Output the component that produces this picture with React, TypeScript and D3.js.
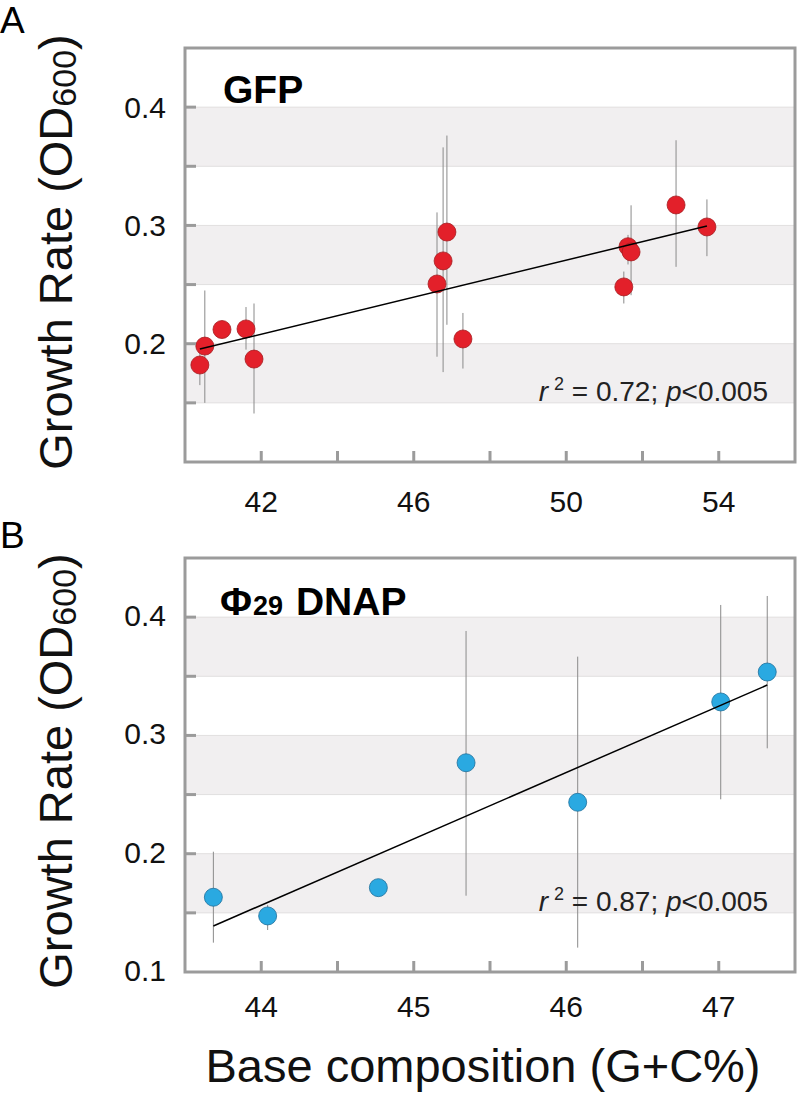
import React from "react";
import * as d3 from "d3";

// ---------- Data ----------
// Panel A: GFP
const gfpGC = [40.39, 40.52, 40.97, 41.6, 41.81, 46.61, 46.77, 46.87, 47.29, 51.51, 51.62, 51.7, 52.88, 53.69];
const gfpRate = [0.182, 0.198, 0.212, 0.2125, 0.187, 0.2505, 0.27, 0.2944, 0.204, 0.248, 0.282, 0.2776, 0.3173, 0.2987];
const gfpLow = [0.165, 0.15, 0.208, 0.195, 0.141, 0.189, 0.176, 0.216, 0.179, 0.234, 0.267, 0.241, 0.265, 0.274];
const gfpHigh = [0.199, 0.245, 0.216, 0.231, 0.234, 0.311, 0.366, 0.376, 0.226, 0.261, 0.292, 0.317, 0.372, 0.322];
const gfpFitX = [40.39, 53.69];
const gfpFitY = [0.1955, 0.2995];

// Panel B: Φ29 DNAP
const dnapGC = [43.686, 44.042, 44.768, 45.343, 46.075, 47.013, 47.318];
const dnapRate = [0.1632, 0.1474, 0.1713, 0.2769, 0.2435, 0.3283, 0.3536];
const dnapLow = [0.1248, 0.1355, 0.1713, 0.1645, 0.1206, 0.246, 0.2891];
const dnapHigh = [0.2017, 0.1567, 0.1713, 0.3883, 0.3666, 0.4103, 0.4179];
const dnapFitX = [43.686, 47.318];
const dnapFitY = [0.1389, 0.3426];

// Axes
const yDomain = [0.1, 0.45];
const yTickMarks = [0.15, 0.2, 0.25, 0.3, 0.35, 0.4];
const bandRanges = [[0.15, 0.2], [0.25, 0.3], [0.35, 0.4]];
const yLabelsA = [0.2, 0.3, 0.4];
const yLabelsB = [0.1, 0.2, 0.3, 0.4];

const xDomainA = [40, 56];
const xTickMarksA = [42, 44, 46, 48, 50, 52, 54];
const xLabelsA = [42, 46, 50, 54];

const xDomainB = [43.5, 47.5];
const xTickMarksB = [44, 44.5, 45, 45.5, 46, 46.5, 47];
const xLabelsB = [44, 45, 46, 47];

const FONT = "'Liberation Sans', Arial, Helvetica, sans-serif";
const FRAME = "#9b9b9b";

type PanelProps = {
  top: number;
  letter: string;
  letterY: number;
  title: React.ReactNode;
  xDomain: number[];
  xTickMarks: number[];
  xLabels: number[];
  yLabels: number[];
  xs: number[];
  ys: number[];
  lows: number[];
  highs: number[];
  fitX: number[];
  fitY: number[];
  fill: string;
  stroke: string;
  stat: string;
  xLabelBaseline: number;
  yLabelOffset: number;
  yTitleCenter: number;
};

function Panel(p: PanelProps) {
  const left = 185, right = 795, height = 414;
  const top = p.top, bottom = top + height;
  const x = d3.scaleLinear().domain(p.xDomain).range([left, right]);
  const y = d3.scaleLinear().domain(yDomain).range([bottom, top]);
  const line = d3.line<number>().x((_, i) => x(p.fitX[i])).y((d) => y(d));
  const tickLen = 11;
  return (
    <g>
      <text x={0} y={p.letterY} fontFamily={FONT} fontSize={37} fill="#000">{p.letter}</text>
      {/* bands */}
      {bandRanges.map((b, i) => (
        <rect key={"b" + i} x={left} y={y(b[1])} width={right - left} height={y(b[0]) - y(b[1])} fill="#f1eff0" />
      ))}
      {yTickMarks.map((t, i) => (
        <line key={"gl" + i} x1={left} x2={right} y1={y(t)} y2={y(t)} stroke="#e1dfdf" strokeWidth={1} />
      ))}
      {/* title */}
      {p.title}
      {/* error bars */}
      {p.xs.map((v, i) => (
        <line key={"e" + i} x1={x(v)} x2={x(v)} y1={y(p.lows[i])} y2={y(p.highs[i])} stroke="#8a8a8a" strokeWidth={1} />
      ))}
      {/* points */}
      {p.xs.map((v, i) => (
        <circle key={"c" + i} cx={x(v)} cy={y(p.ys[i])} r={9} fill={p.fill} stroke={p.stroke} strokeWidth={0.8} />
      ))}
      {/* fit */}
      <path d={line(p.fitY) || ""} fill="none" stroke="#000" strokeWidth={1.5} />
      {/* stat */}
      <text x={768} y={y(0.15) - 2} textAnchor="end" fontFamily={FONT} fontSize={28} fill="#222">
        <tspan fontStyle="italic">r</tspan>
        <tspan dx={6} dy={-11} fontSize={18}>2</tspan>
        <tspan dy={11}>{" = " + p.stat.split("|")[0] + "; "}</tspan>
        <tspan fontStyle="italic">p</tspan>
        <tspan>{p.stat.split("|")[1]}</tspan>
      </text>
      {/* frame */}
      <rect x={left} y={top} width={right - left} height={height} fill="none" stroke={FRAME} strokeWidth={3} />
      {yTickMarks.map((t, i) => (
        <line key={"yt" + i} x1={left} x2={left + tickLen} y1={y(t)} y2={y(t)} stroke={FRAME} strokeWidth={3} />
      ))}
      {p.xTickMarks.map((t, i) => (
        <line key={"xt" + i} x1={x(t)} x2={x(t)} y1={bottom} y2={bottom - tickLen} stroke={FRAME} strokeWidth={3} />
      ))}
      {/* tick labels */}
      {p.yLabels.map((t, i) => (
        <text key={"yl" + i} x={166} y={y(t) + p.yLabelOffset} textAnchor="end" fontFamily={FONT} fontSize={30} fill="#111">
          {d3.format(".1f")(t)}
        </text>
      ))}
      {p.xLabels.map((t, i) => (
        <text key={"xl" + i} x={x(t)} y={p.xLabelBaseline} textAnchor="middle" fontFamily={FONT} fontSize={30} fill="#111">
          {t}
        </text>
      ))}
      {/* y title */}
      <text transform={`translate(72,${p.yTitleCenter}) rotate(-90)`} textAnchor="middle" fontFamily={FONT} fontSize={47} fill="#111">
        <tspan>Growth Rate (OD</tspan>
        <tspan fontSize={34} dy={4}>600</tspan>
        <tspan dy={-4}>)</tspan>
      </text>
    </g>
  );
}

export default function App() {
  return (
    <svg width={799} height={1108} viewBox="0 0 799 1108" style={{ position: "absolute", left: 0, top: 0, background: "#fff" }}>
      <rect x={0} y={0} width={799} height={1108} fill="#fff" />
      <Panel
        top={48}
        letter="A"
        letterY={33}
        title={
          <text x={223} y={103} fontFamily={FONT} fontSize={39} fontWeight="bold" fill="#000">GFP</text>
        }
        xDomain={xDomainA}
        xTickMarks={xTickMarksA}
        xLabels={xLabelsA}
        yLabels={yLabelsA}
        xs={gfpGC}
        ys={gfpRate}
        lows={gfpLow}
        highs={gfpHigh}
        fitX={gfpFitX}
        fitY={gfpFitY}
        fill="#e3202a"
        stroke="#a51c20"
        stat="0.72|<0.005"
        xLabelBaseline={512}
        yLabelOffset={10.5}
        yTitleCenter={252}
      />
      <Panel
        top={558}
        letter="B"
        letterY={548}
        title={
          <text x={220} y={615} fontFamily={FONT} fontSize={39} fontWeight="bold" fill="#000">
            <tspan>Φ</tspan>
            <tspan fontSize={27} dx={1}>29</tspan>
            <tspan dx={2}>{" DNAP"}</tspan>
          </text>
        }
        xDomain={xDomainB}
        xTickMarks={xTickMarksB}
        xLabels={xLabelsB}
        yLabels={yLabelsB}
        xs={dnapGC}
        ys={dnapRate}
        lows={dnapLow}
        highs={dnapHigh}
        fitX={dnapFitX}
        fitY={dnapFitY}
        fill="#2aa9e1"
        stroke="#1d6f9a"
        stat="0.87|<0.005"
        xLabelBaseline={1017}
        yLabelOffset={9}
        yTitleCenter={771}
      />
      <text x={483} y={1082} textAnchor="middle" fontFamily={FONT} fontSize={47} fill="#111">
        Base composition (G+C%)
      </text>
    </svg>
  );
}
